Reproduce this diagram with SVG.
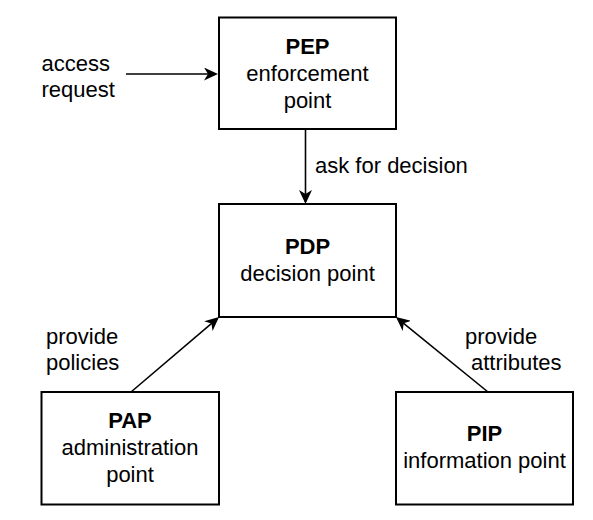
<svg xmlns="http://www.w3.org/2000/svg" width="593" height="520" viewBox="0 0 593 520">
<defs>
<style>
.box{fill:#ffffff;stroke:#000000;stroke-width:2}
.t{font-family:"Liberation Sans",Arial,Helvetica,sans-serif;font-size:22px;fill:#000000}
.c{text-anchor:middle}
.b{font-weight:bold}
.edge{fill:none;stroke:#000000;stroke-width:1.6}
</style>
<marker id="arr" viewBox="0 0 14 13" refX="12" refY="6.5" markerWidth="14" markerHeight="13" markerUnits="userSpaceOnUse" orient="auto">
<path d="M14,6.5 L0,0 L4,6.5 L0,13 Z" fill="#000000"/>
</marker>
</defs>
<rect width="593" height="520" fill="#ffffff"/>
<g id="connectors">
<line class="edge" x1="126" y1="74" x2="216" y2="74" marker-end="url(#arr)"/>
<line class="edge" x1="305.5" y1="130" x2="305.5" y2="202" marker-end="url(#arr)"/>
<line class="edge" x1="131" y1="392" x2="217.5" y2="318.3" marker-end="url(#arr)"/>
<line class="edge" x1="488" y1="392" x2="397.5" y2="318.3" marker-end="url(#arr)"/>
<text class="t" x="41.5" y="71">access</text>
<text class="t" x="41.5" y="97">request</text>
<text class="t" x="315" y="173">ask for decision</text>
<text class="t" x="46" y="343.5">provide</text>
<text class="t" x="46" y="369.5">policies</text>
<text class="t" x="465" y="343.5">provide</text>
<text class="t" x="471" y="369.5">attributes</text>
</g>
<g id="PEP">
<rect class="box" x="219" y="17.5" width="177" height="111.5"/>
<text class="t c b" x="307.5" y="54">PEP</text>
<text class="t c" x="307.5" y="81">enforcement</text>
<text class="t c" x="307.5" y="108">point</text>
</g>
<g id="PDP">
<rect class="box" x="219" y="204" width="177" height="113"/>
<text class="t c b" x="307.5" y="254">PDP</text>
<text class="t c" x="307.5" y="281">decision point</text>
</g>
<g id="PAP">
<rect class="box" x="41.5" y="392" width="177.5" height="112.5"/>
<text class="t c b" x="130" y="428">PAP</text>
<text class="t c" x="130" y="455">administration</text>
<text class="t c" x="130" y="481.5">point</text>
</g>
<g id="PIP">
<rect class="box" x="396" y="392" width="177" height="112.5"/>
<text class="t c b" x="484.5" y="441">PIP</text>
<text class="t c" x="484.5" y="468">information point</text>
</g>
</svg>
